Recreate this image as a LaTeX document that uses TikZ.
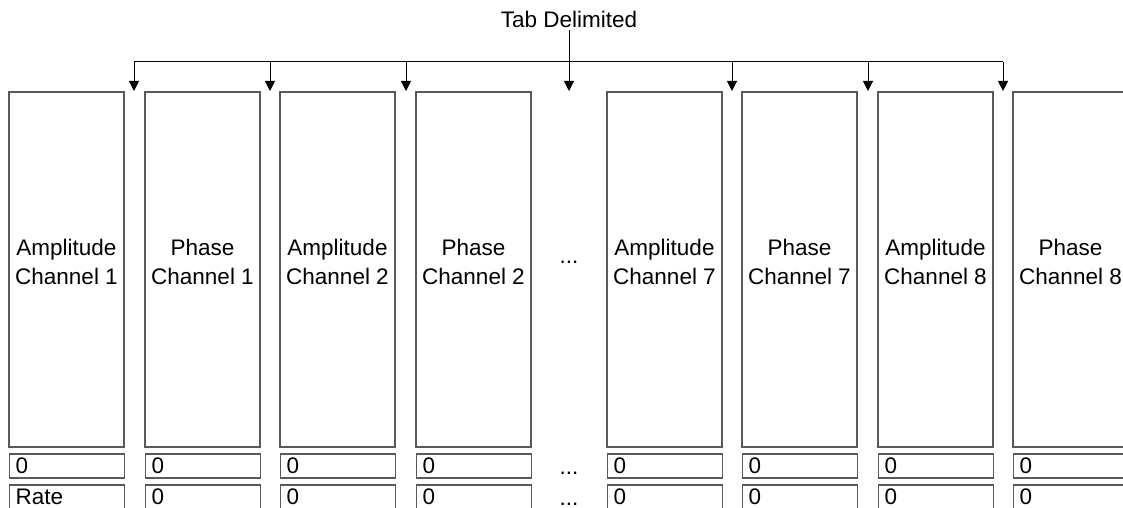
\documentclass[tikz,border=0pt]{standalone}
\usepackage{fontspec}
\setmainfont{Liberation Sans}
\usetikzlibrary{arrows.meta}
\begin{document}
\begin{tikzpicture}[x=1pt, y=-1pt, >={Triangle[width=10pt,length=10pt]},
    chan/.style={draw=black!65, line width=1.2pt, minimum width=115pt, minimum height=355pt, inner sep=0pt},
    cell/.style={draw=black!65, line width=1.2pt, text width=103pt, inner xsep=6pt, inner ysep=0pt,
        minimum height=24pt, align=left, anchor=west, font=\fontsize{22.5}{29}\selectfont},
    txt/.style={align=center, inner sep=2pt, font=\fontsize{22.5}{29}\selectfont}]
\useasboundingbox (0,0) rectangle (1123,508);
% channel columns
\foreach \xl/\nm/\kind/\k/\rr in {9/amp1/Amplitude/1/Rate, 145/pha1/Phase/1/0, 280/amp2/Amplitude/2/0, 416/pha2/Phase/2/0,
        607/amp7/Amplitude/7/0, 742/pha7/Phase/7/0, 878/amp8/Amplitude/8/0, 1013/pha8/Phase/8/0}{
    \node[chan] (\nm) at (\xl+57.5,269.5) {};
    \node[txt] at ([yshift=8pt]\nm.center) {\kind\\Channel \k};
    \node[cell] (\nm-a) at (\xl,466) {0};
    \node[cell] (\nm-b) at (\xl,497) {\rr};
}
% omitted channels
\node[txt, anchor=base] (gap) at (569,263) {...};
\node[txt, anchor=base] (gap-a) at (569,474) {...};
\node[txt, anchor=base] (gap-b) at (569,505) {...};
% tab markers
\node[txt, anchor=base] (tab) at (569,28) {Tab Delimited};
\foreach \x [count=\i] in {134,270,406,732,868,1003}{
    \coordinate (bus\i) at (\x,62);
    \coordinate (tip\i) at (\x,91);
    \draw[->, line width=1pt] (bus\i) -- (tip\i);
}
\coordinate (tip0) at (569,91);
\draw[line width=1pt] (bus1) -- (bus6);
\draw[->, line width=1pt] (tab.south) -- (tip0);
\end{tikzpicture}
\end{document}
